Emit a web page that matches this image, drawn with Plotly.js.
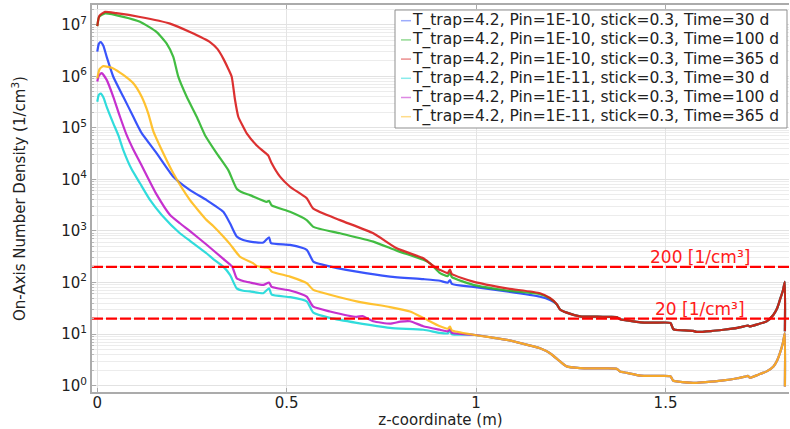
<!DOCTYPE html>
<html><head><meta charset="utf-8">
<script src="https://cdn.plot.ly/plotly-3.0.1.min.js"></script>
<style>html,body{margin:0;padding:0;background:#fff}#chart{width:790px;height:429px}</style>
</head><body><div id="chart"></div>
<script>
// ---------- data ----------
const seriesNames = [
  'T_trap=4.2, Pin=1E-10, stick=0.3, Time=30 d',
  'T_trap=4.2, Pin=1E-10, stick=0.3, Time=100 d',
  'T_trap=4.2, Pin=1E-10, stick=0.3, Time=365 d',
  'T_trap=4.2, Pin=1E-11, stick=0.3, Time=30 d',
  'T_trap=4.2, Pin=1E-11, stick=0.3, Time=100 d',
  'T_trap=4.2, Pin=1E-11, stick=0.3, Time=365 d'
];

// shared tail of the Pin=1E-10 curves (they coincide beyond ~1.2 m)
const zUpperTail = [1.2128, 1.2215, 1.2392, 1.2743, 1.32, 1.35, 1.371, 1.38, 1.398, 1.434, 1.47, 1.513, 1.52, 1.525, 1.573, 1.582, 1.62, 1.653, 1.69, 1.714, 1.718, 1.723, 1.745, 1.767, 1.785, 1.795, 1.802, 1.81, 1.815, 1.8152];
const nUpperTail = [38, 30, 26, 22, 21.7, 21.6, 21.4, 19.3, 18.4, 16.8, 16.6, 16.4, 12.6, 12.1, 11.5, 11.0, 11.4, 12.1, 13.2, 14.5, 14.6, 14.1, 15.6, 17.6, 23.7, 32, 46, 70, 103, 11.3];

// shared tail of the Pin=1E-11 curves (they coincide beyond ~1.0 m)
const zLowerTail = [0.9926, 1.04, 1.0808, 1.12, 1.1687, 1.1951, 1.2215, 1.2392, 1.2743, 1.32, 1.371, 1.38, 1.398, 1.434, 1.47, 1.513, 1.52, 1.525, 1.573, 1.582, 1.62, 1.653, 1.69, 1.714, 1.718, 1.723, 1.745, 1.767, 1.785, 1.795, 1.802, 1.81, 1.815, 1.8152];
const nLowerTail = [9.7, 8.6, 7.7, 6.6, 5.3, 4.25, 2.95, 2.36, 2.19, 2.16, 2.13, 1.87, 1.77, 1.56, 1.54, 1.52, 1.25, 1.22, 1.13, 1.13, 1.19, 1.26, 1.39, 1.52, 1.54, 1.42, 1.63, 1.89, 2.36, 3.1, 4.25, 6.8, 10.4, 0.96];

const zBlue = [0, 0.004, 0.009, 0.016, 0.0248, 0.0422, 0.0686, 0.095, 0.108, 0.1172, 0.1568, 0.2006, 0.2447, 0.2888, 0.3326, 0.3503, 0.368, 0.385, 0.4031, 0.4382, 0.4533, 0.4586, 0.5087, 0.5528, 0.5702, 0.5966, 0.6848, 0.7727, 0.8606, 0.9047, 0.925, 0.931, 0.936, 0.9926, 1.0808, 1.1687, 1.1951];
const nBlue = [3.0e6, 4.25e6, 4.6e6, 3.9e6, 2.38e6, 9.8e5, 4.0e5, 1.64e5, 1.05e5, 7.9e4, 3.2e4, 1.13e4, 6.2e3, 3.95e3, 2.35e3, 1.41e3, 780, 665, 620, 595, 755, 580, 535, 430, 255, 220, 162, 130, 116, 108, 99, 111, 94, 82, 67, 53, 46];

const zGreen = [0, 0.005, 0.0203, 0.0686, 0.1127, 0.1568, 0.1832, 0.2006, 0.2138, 0.236, 0.2624, 0.2843, 0.3152, 0.3458, 0.368, 0.385, 0.4031, 0.4472, 0.4533, 0.4604, 0.5087, 0.5528, 0.5702, 0.6407, 0.7286, 0.7904, 0.8606, 0.8783, 0.9047, 0.925, 0.931, 0.936, 0.9926, 1.0808, 1.1687, 1.1951];
const nGreen = [9.4e6, 1.42e7, 1.65e7, 1.42e7, 1.14e7, 7.2e6, 4.3e6, 2.38e6, 9.8e5, 4.0e5, 1.64e5, 7.2e4, 3.2e4, 1.51e4, 6.6e3, 5.5e3, 4.95e3, 3.65e3, 3.85e3, 3.12e3, 2.35e3, 1.62e3, 1.2e3, 900, 620, 415, 275, 235, 152, 133, 152, 127, 90, 70, 59, 49];

const zRed = [0, 0.005, 0.0203, 0.05, 0.1127, 0.1919, 0.2447, 0.2975, 0.3175, 0.3326, 0.345, 0.3548, 0.3635, 0.3722, 0.385, 0.3944, 0.4208, 0.4472, 0.4514, 0.4604, 0.4823, 0.5087, 0.5528, 0.5702, 0.6407, 0.7286, 0.7904, 0.8606, 0.8783, 0.89, 0.9047, 0.925, 0.931, 0.936, 0.9926, 1.0808, 1.1687, 1.1951];
const nRed = [9.4e6, 1.47e7, 1.77e7, 1.67e7, 1.41e7, 1.05e7, 7.2e6, 4.6e6, 3.35e6, 2.2e6, 1.43e6, 9.8e5, 3.5e5, 1.64e5, 1.05e5, 7.8e4, 4.55e4, 3.1e4, 2.9e4, 2.05e4, 1.13e4, 7.2e3, 4.3e3, 2.7e3, 1.62e3, 900, 460, 295, 235, 202, 175, 152, 177, 146, 104, 77, 62, 50];

const zCyan = [0, 0.004, 0.009, 0.016, 0.0248, 0.0422, 0.0554, 0.0686, 0.09, 0.1127, 0.14, 0.17, 0.218, 0.2447, 0.2888, 0.3062, 0.3326, 0.3503, 0.368, 0.385, 0.4031, 0.4382, 0.4533, 0.4604, 0.5087, 0.5528, 0.5702, 0.6143, 0.6848, 0.7727, 0.8606, 0.9047, 0.925, 0.931, 0.936];
const nCyan = [3.2e5, 4.35e5, 4.6e5, 3.9e5, 2.55e5, 1.22e5, 7.2e4, 3.7e4, 1.6e4, 8.4e3, 3.9e3, 2.04e3, 900, 640, 365, 285, 203, 140, 77, 69, 67, 62, 77, 58, 52, 43, 26, 20.6, 16.5, 13.2, 12.1, 10.5, 10.3, 11.5, 9.9];

const zMagenta = [0, 0.004, 0.0116, 0.0248, 0.0422, 0.0599, 0.0776, 0.095, 0.1127, 0.1568, 0.192, 0.218, 0.2447, 0.2888, 0.3326, 0.356, 0.368, 0.385, 0.4031, 0.4382, 0.4533, 0.4604, 0.5087, 0.5528, 0.5702, 0.6143, 0.6848, 0.70, 0.7286, 0.7727, 0.80, 0.8255, 0.8606, 0.9047, 0.925, 0.931, 0.936];
const nMagenta = [7.9e5, 1.03e6, 1.15e6, 8.5e5, 4.0e5, 1.64e5, 7.2e4, 3.8e4, 2.15e4, 5.05e3, 2.04e3, 1.41e3, 990, 540, 287, 203, 121, 107, 100, 90, 100, 82, 70, 53, 34, 27.4, 21.5, 22.4, 17.7, 15.9, 17.4, 17.7, 14.2, 12.1, 11.3, 12.4, 10.5];

const zYellow = [0, 0.006, 0.0158, 0.0422, 0.0686, 0.095, 0.1172, 0.1346, 0.1478, 0.1742, 0.2006, 0.2447, 0.2888, 0.306, 0.3326, 0.3503, 0.3767, 0.4118, 0.4208, 0.445, 0.4533, 0.4604, 0.5087, 0.5528, 0.5702, 0.6143, 0.6848, 0.7727, 0.8255, 0.8606, 0.9047, 0.925, 0.931, 0.936];
const nYellow = [9.1e5, 1.37e6, 1.57e6, 1.42e6, 1.06e6, 7.3e5, 4.0e5, 1.89e5, 8.6e4, 3.2e4, 1.31e4, 3.95e3, 1.62e3, 1.25e3, 780, 555, 316, 235, 209, 194, 188, 163, 130, 97, 72, 58, 43, 33.3, 27.4, 20.6, 14.1, 12.7, 13.9, 11.8];

const thresholds = [200, 20];
const thresholdLabels = ['200 [1/cm³]', '20 [1/cm³]'];

const yTickVals = [1, 10, 100, 1e3, 1e4, 1e5, 1e6, 1e7];
const yTickText = ['10<sup>0</sup>', '10<sup>1</sup>', '10<sup>2</sup>', '10<sup>3</sup>', '10<sup>4</sup>', '10<sup>5</sup>', '10<sup>6</sup>', '10<sup>7</sup>'];
const xTickVals = [0, 0.5, 1, 1.5];
const xTickText = ['0', '0.5', '1', '1.5'];

// ---------- build ----------
const FONT = 'DejaVu Sans, Verdana, sans-serif';
const W = 790, H = 429;
const M = {l: 92, r: 1, t: 5, b: 37};
const PW = W - M.l - M.r, PH = H - M.t - M.b;
const px2paperX = p => (p - M.l) / PW;
const px2paperY = p => 1 - (p - M.t) / PH;

const xRange = [-0.014, 1.826];
const yRange = [-0.124, 7.382];

const lineColors = ['rgba(30,60,250,0.88)', 'rgba(40,180,40,0.88)', 'rgba(215,20,20,0.88)',
                    'rgba(20,215,215,0.88)', 'rgba(190,20,200,0.88)', 'rgba(255,185,20,0.88)'];
const legendColors = ['rgba(60,90,250,0.5)', 'rgba(40,180,40,0.5)', 'rgba(215,30,30,0.5)',
                      'rgba(20,215,215,0.5)', 'rgba(190,20,200,0.5)', 'rgba(255,185,20,0.5)'];

const seriesZ = [zBlue.concat(zUpperTail), zGreen.concat(zUpperTail), zRed.concat(zUpperTail),
                 zCyan.concat(zLowerTail), zMagenta.concat(zLowerTail), zYellow.concat(zLowerTail)];
const seriesN = [nBlue.concat(nUpperTail), nGreen.concat(nUpperTail), nRed.concat(nUpperTail),
                 nCyan.concat(nLowerTail), nMagenta.concat(nLowerTail), nYellow.concat(nLowerTail)];

const traces = [];
for (let i = 0; i < 6; i++) {
  traces.push({x: seriesZ[i], y: seriesN[i], type: 'scatter', mode: 'lines', name: seriesNames[i],
    line: {color: lineColors[i], width: 2.2, shape: 'spline', smoothing: 0.5}, showlegend: false, hoverinfo: 'skip'});
}
thresholds.forEach(v => {
  traces.push({x: xRange, y: [v, v], type: 'scatter', mode: 'lines',
    line: {color: '#ff0000', width: 2.2, dash: '11px,3px'}, showlegend: false, hoverinfo: 'skip'});
});

const minorVals = [];
for (let d = 0; d < 8; d++) for (let k = 2; k <= 9; k++) minorVals.push(k * Math.pow(10, d));

// legend box drawn by hand (tight row spacing like the reference)
const legBox = {l: 395, r: 787, t: 10, b: 128};
const rowY0 = 20.7, rowStep = 19.2;
const shapes = [{type: 'rect', xref: 'paper', yref: 'paper', layer: 'above',
  x0: px2paperX(legBox.l), x1: px2paperX(legBox.r), y0: px2paperY(legBox.b), y1: px2paperY(legBox.t),
  line: {color: '#8f8f8f', width: 1}, fillcolor: '#ffffff'}];
const annotations = [];
seriesNames.forEach((name, i) => {
  const yc = rowY0 + i * rowStep;
  shapes.push({type: 'line', xref: 'paper', yref: 'paper', layer: 'above',
    x0: px2paperX(401), x1: px2paperX(411), y0: px2paperY(yc), y1: px2paperY(yc),
    line: {color: legendColors[i], width: 1.5}});
  annotations.push({xref: 'paper', yref: 'paper', x: px2paperX(410), y: px2paperY(yc),
    xanchor: 'left', yanchor: 'middle', showarrow: false, text: name,
    font: {family: FONT, size: 15.5, color: '#222'}});
});
thresholds.forEach((v, i) => {
  annotations.push({x: 1.592, y: Math.log10(v), xref: 'x', yref: 'y', text: thresholdLabels[i],
    showarrow: false, xanchor: 'center', yanchor: 'bottom', yshift: -2,
    font: {family: FONT, size: 17, color: '#ff1a1a'}});
});

const layout = {
  width: W, height: H,
  margin: M,
  paper_bgcolor: '#fff', plot_bgcolor: '#fff',
  font: {family: FONT, size: 15, color: '#222'},
  showlegend: false,
  xaxis: {range: xRange, tickmode: 'array', tickvals: xTickVals, ticktext: xTickText,
    showgrid: true, gridcolor: '#e4e4e4', gridwidth: 1, zeroline: false,
    showline: true, mirror: 'ticks', linecolor: '#ababab', linewidth: 2,
    ticks: 'inside', ticklen: 4, tickcolor: '#aaa', ticklabelstandoff: -4,
    tickfont: {family: FONT, size: 15, color: '#222'},
    title: {text: 'z-coordinate (m)', font: {family: FONT, size: 15, color: '#222'}, standoff: 4}},
  yaxis: {type: 'log', range: yRange, tickmode: 'array', tickvals: yTickVals, ticktext: yTickText,
    showgrid: true, gridcolor: '#e2e2e2', gridwidth: 1, zeroline: false,
    showline: true, linecolor: '#ababab', linewidth: 2,
    ticks: 'inside', ticklen: 4, tickcolor: '#aaa',
    minor: {tickmode: 'array', tickvals: minorVals, showgrid: true, gridcolor: '#ececec',
      ticks: 'inside', ticklen: 2, tickcolor: '#bbb'},
    tickfont: {family: FONT, size: 15, color: '#222'},
    title: {text: 'On-Axis Number Density (1/cm<sup>3</sup>)', font: {family: FONT, size: 15, color: '#222'}, standoff: 32}},
  shapes: shapes,
  annotations: annotations
};

Plotly.newPlot('chart', traces, layout, {displayModeBar: false, staticPlot: true});
</script>
</body></html>
